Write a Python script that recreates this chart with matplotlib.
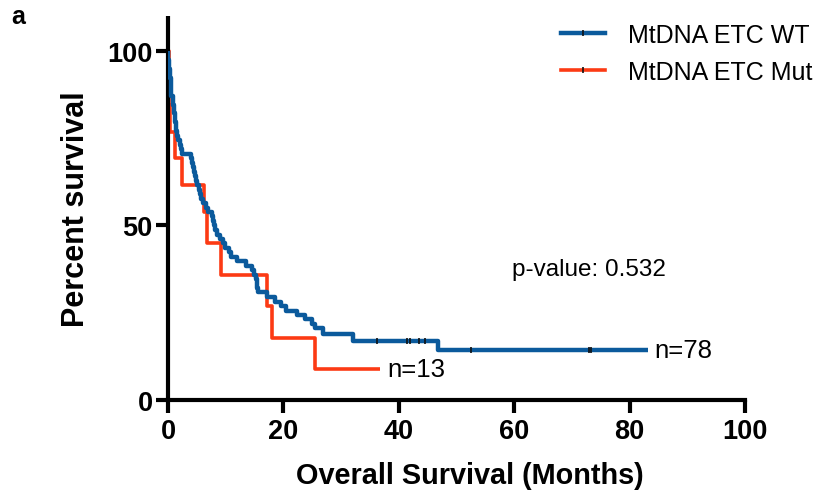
import matplotlib.pyplot as plt

plt.rcParams['font.family'] = ['Liberation Sans', 'DejaVu Sans']

# Kaplan-Meier steps (months, percent survival)
wt_time = [0, 0.05, 0.15, 0.3, 0.45, 0.6, 0.8, 1.0, 1.2, 1.4, 1.6, 1.8, 2.0, 2.2, 2.4,
           3.9, 4.1, 4.3, 4.5, 4.7, 4.9, 5.1, 5.3, 5.5, 5.8, 6.1, 6.6, 7.0, 7.6, 7.8,
           7.9, 8.1, 8.5, 9.0, 9.5, 9.9, 10.5, 11.0, 12.0, 13.5, 14.5, 14.9, 15.2,
           15.4, 15.5, 15.6, 17.2, 18.5, 19.5, 20.5, 22.3, 23.7, 24.9, 25.5, 26.9,
           32.1, 46.8, 83.2]
wt_surv = [100, 97.4, 94.9, 92.3, 89.7, 87.2, 84.6, 82.1, 79.5, 77.0, 75.6, 74.4, 73.1,
           71.8, 70.5, 69.2, 67.9, 66.7, 65.4, 64.1, 62.8, 61.5, 60.3, 59.0, 57.7, 56.4,
           55.1, 53.8, 52.6, 51.3, 50.0, 48.7, 47.4, 46.2, 44.9, 43.6, 42.3, 41.0, 39.7,
           38.5, 37.2, 35.9, 34.6, 33.3, 32.1, 30.8, 29.5, 28.2, 26.9, 25.6, 24.4, 23.1,
           21.8, 20.5, 19.0, 17.0, 14.2, 14.2]
wt_censor = [36.2, 41.4, 41.9, 43.5, 44.6, 52.6, 73.0, 73.3]

mut_time = [0, 0.1, 0.2, 0.3, 1.2, 2.4, 6.3, 6.8, 9.2, 17.1, 18.0, 25.5, 36.7]
mut_surv = [100, 92.3, 84.6, 76.9, 69.2, 61.5, 53.8, 44.9, 35.9, 26.9, 17.9, 9.0, 9.0]

blue = '#0B5A9C'
red = '#FC3A14'

fig = plt.figure(figsize=(8.22, 5.02), dpi=100)
ax = fig.add_axes([0.2044, 0.2012, 0.7019, 0.7649])

ax.step(mut_time, mut_surv, where='post', color=red, lw=2.6, label='MtDNA ETC Mut',
        solid_capstyle='butt', zorder=2)
ax.step(wt_time, wt_surv, where='post', color=blue, lw=3.2, label='MtDNA ETC WT',
        solid_capstyle='butt', zorder=3)


def surv_at(t, times, surv):
    s = surv[0]
    for tt, ss in zip(times, surv):
        if tt <= t:
            s = ss
    return s


ax.plot(wt_censor, [surv_at(t, wt_time, wt_surv) for t in wt_censor], ls='none',
        marker='|', ms=5, mew=1.2, color='#111111', zorder=4)

# legend handles with the little tick in the middle
h_wt, = ax.plot([], [], color=blue, lw=3.2, marker='|', ms=5, mew=1.2, mec='#111111')
h_mut, = ax.plot([], [], color=red, lw=2.6, marker='|', ms=5, mew=1.2, mec='#111111')
leg = ax.legend([h_wt, h_mut], ['MtDNA ETC WT', 'MtDNA ETC Mut'], loc='upper left',
                bbox_to_anchor=(0.683, 0.952), bbox_transform=fig.transFigure,
                frameon=False, fontsize=18, borderpad=0, borderaxespad=0,
                handlelength=1.75, labelspacing=0.5, handletextpad=0.9)

ax.text(73, 37.5, 'p-value: 0.532', fontsize=17.5, ha='center', va='center')
ax.text(84.3, 14.3, 'n=78', fontsize=18.5, ha='left', va='center')
ax.text(38.0, 9.0, 'n=13', fontsize=18.5, ha='left', va='center')

ax.set_xlim(0, 100)
ax.set_ylim(0, 110)
ax.set_xticks([0, 20, 40, 60, 80, 100])
ax.set_yticks([0, 50, 100])
for s in ['top', 'right']:
    ax.spines[s].set_visible(False)
for s in ['left', 'bottom']:
    ax.spines[s].set_linewidth(3)
ax.spines['left'].set_capstyle('butt')
ax.tick_params(width=3, length=9, labelsize=19.5, pad=2)
ax.tick_params(axis='x', pad=4)
for lab in ax.get_xticklabels() + ax.get_yticklabels():
    lab.set_fontweight('bold')

ax.set_xlabel('Overall Survival (Months)', fontsize=20.8, fontweight='bold')
ax.xaxis.set_label_coords(0.523, -0.16)
ax.set_ylabel('Percent survival', fontsize=22, fontweight='bold', labelpad=12)

fig.text(0.022, 0.966, 'a', fontsize=18, fontweight='bold', ha='center', va='center')

fig.savefig('out.png', dpi=100)
